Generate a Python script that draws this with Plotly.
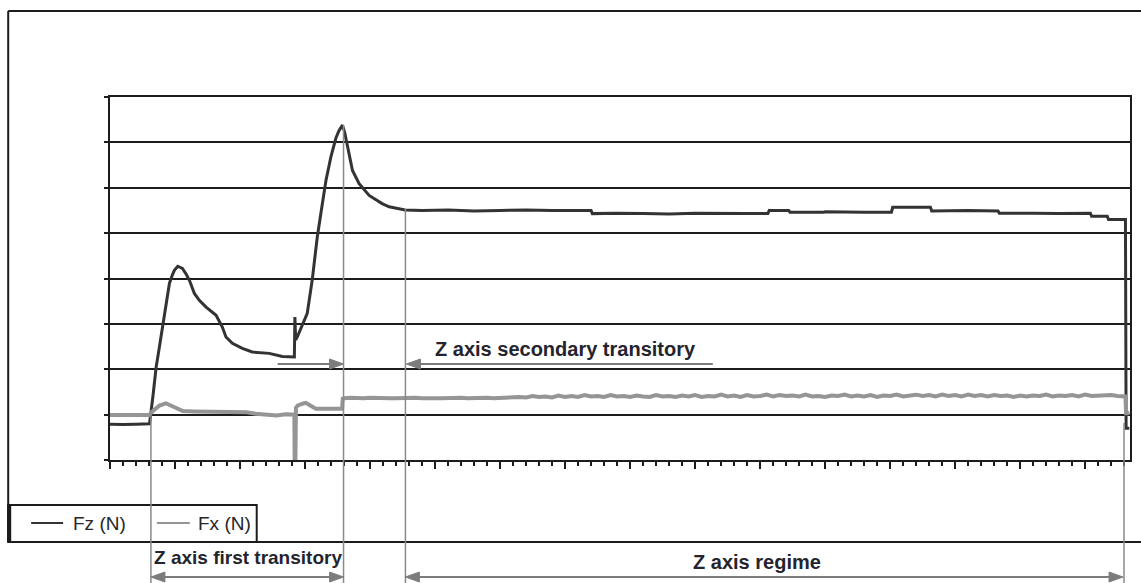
import plotly.graph_objects as go

# ---- Measured force signals (time in sample units, force in N) ----
fz_time = [
    0, 1, 2, 2.9, 3.04,
    3.3, 3.55, 3.75, 3.93, 4.19,
    4.4, 4.57, 4.8, 4.95, 5.21,
    5.4, 5.57, 5.85, 6.11, 6.49,
    6.87, 7.39, 7.8, 8.16, 8.64,
    8.92, 9.41, 10.18, 10.94, 11.6,
    12.25, 13.25, 14.02, 14.18, 14.22,
    14.28, 14.40, 14.78, 15.17, 15.55,
    15.94, 16.22, 16.61, 16.99, 17.37,
    17.6, 17.88, 18.05, 18.26, 18.65,
    19.16, 19.93, 20.93, 21.47, 22.7,
    24, 26, 28, 30, 32,
    34, 36, 37.0, 37.1, 39,
    41, 43, 45, 47, 49,
    50.6, 50.7, 52.2, 52.3, 54.9,
    55.0, 58, 60.1, 60.2, 63.1,
    63.2, 66, 68.3, 68.4, 71,
    73, 75.4, 75.5, 76.7, 76.8,
    78.1, 78.15, 78.4,
]
fz_force = [
    -21, -22, -21, -21, -20,
    40, 105, 140, 171, 223,
    262, 289, 308, 318, 327,
    325, 322, 310, 296, 267,
    252, 237, 228, 219, 193,
    171, 157, 146, 138, 136,
    135, 128, 127, 127, 215,
    165, 171, 197, 223, 296,
    391, 444, 516, 568, 609,
    625, 638, 622, 590, 538,
    509, 483, 465, 458, 451,
    450, 451, 449, 450, 451,
    450, 449, 450, 443, 444,
    443, 442, 444, 443, 443,
    443, 450, 450, 446, 446,
    447, 446, 446, 457, 457,
    449, 450, 449, 444, 444,
    443, 444, 437, 437, 430,
    430, -30, -30,
]

fx_time = [
    0, 1, 2, 3.0, 3.3, 3.8, 4.3, 4.7, 5.1, 5.6,
    6.5, 7.5, 8.5, 9.5, 10.5, 11.2, 12.0, 12.8, 13.5, 14.0,
    14.18, 14.2, 14.26, 14.3, 14.43, 14.8, 15.07, 15.4, 15.84, 16.5,
    17.2, 17.85, 17.9,
    18.0, 18.5, 19.0, 19.5, 20.0, 20.5, 21.0, 21.5, 22.0, 22.5,
    23.0, 23.5, 24.0, 24.5, 25.0, 25.5, 26.0, 26.5, 27.0, 27.5,
    28.0, 28.5, 29.0, 29.5, 30.0, 30.5, 31.0, 31.5, 32.0, 32.5,
    33.0, 33.5, 34.0, 34.5, 35.0, 35.5, 36.0, 36.5, 37.0, 37.5,
    38.0, 38.5, 39.0, 39.5, 40.0, 40.5, 41.0, 41.5, 42.0, 42.5,
    43.0, 43.5, 44.0, 44.5, 45.0, 45.5, 46.0, 46.5, 47.0, 47.5,
    48.0, 48.5, 49.0, 49.5, 50.0, 50.5, 51.0, 51.5, 52.0, 52.5,
    53.0, 53.5, 54.0, 54.5, 55.0, 55.5, 56.0, 56.5, 57.0, 57.5,
    58.0, 58.5, 59.0, 59.5, 60.0, 60.5, 61.0, 61.5, 62.0, 62.5,
    63.0, 63.5, 64.0, 64.5, 65.0, 65.5, 66.0, 66.5, 67.0, 67.5,
    68.0, 68.5, 69.0, 69.5, 70.0, 70.5, 71.0, 71.5, 72.0, 72.5,
    73.0, 73.5, 74.0, 74.5, 75.0, 75.5, 76.0, 76.5, 77.0, 77.5,
    78.0, 78.1, 78.15, 78.4,
]
fx_force = [
    -1, -1, -1, -1, 8, 20, 25, 20, 13, 8,
    7, 6, 7, 6, 5, 2, 0, -2, 1, -1,
    0, -98, -98, 15, 20, 24, 26, 20, 13, 13,
    14, 13, 35,
    36, 37, 36, 36, 37, 36, 37, 36, 36, 37,
    36, 37, 36, 37, 36, 36, 37, 36, 37, 36,
    37, 36, 37, 36, 37, 38, 37, 39, 38, 41,
    39, 40, 38, 42, 39, 41, 39, 43, 40, 41,
    39, 43, 40, 41, 39, 42, 40, 39, 43, 40,
    41, 39, 42, 40, 43, 39, 41, 40, 44, 40,
    42, 39, 43, 40, 41, 44, 40, 43, 41, 42,
    40, 44, 40, 41, 39, 42, 41, 44, 40, 42,
    40, 43, 39, 42, 41, 44, 40, 42, 44, 41,
    43, 40, 44, 41, 43, 40, 44, 41, 43, 40,
    43, 41, 42, 39, 42, 40, 42, 41, 44, 40,
    42, 41, 43, 40, 44, 41, 42, 41, 43, 41,
    42, 40, 3, 3,
]

series_names = ["Fz (N)", "Fx (N)"]
phase_labels = ["Z axis first transitory", "Z axis secondary transitory", "Z axis regime"]

# ---- Page geometry (pixels) ----
W, H = 1141, 583
L, R, T, B = 110, 9, 97, 123
PW, PH = W - L - R, H - T - B


def px(x):
    return (x - L) / PW


def py(y):
    return (T + PH - y) / PH


FZ_COLOR = "#333333"
FX_COLOR = "#959595"
REF_COLOR = "#8a8a8a"
ARROW_COLOR = "#7c7c7c"
FRAME = "#1c1c1c"
TEXT_COLOR = "#24242e"

fig = go.Figure()
fig.add_trace(go.Scatter(x=fz_time, y=fz_force, mode="lines", name=series_names[0],
                         line=dict(color=FZ_COLOR, width=3)))
fig.add_trace(go.Scatter(x=fx_time, y=fx_force, mode="lines", name=series_names[1],
                         line=dict(color=FX_COLOR, width=4)))

shapes = []


def seg(x0, y0, x1, y1, color, width, layer="above"):
    shapes.append(dict(type="line", xref="paper", yref="paper",
                       x0=px(x0), y0=py(y0), x1=px(x1), y1=py(y1),
                       line=dict(color=color, width=width), layer=layer))


def head(xtip, y, direction, color, length=14, half=5):
    xb = xtip - direction * length
    path = "M {} {} L {} {} L {} {} Z".format(
        px(xtip), py(y), px(xb), py(y - half), px(xb), py(y + half))
    shapes.append(dict(type="path", xref="paper", yref="paper", path=path,
                       fillcolor=color, line=dict(color=color, width=1), layer="above"))


# outer frame (left, top, bottom)
seg(8, 11, 8, 542, FRAME, 2)
seg(8, 11, 1145, 11, FRAME, 2)
seg(8, 542, 1145, 542, FRAME, 2)

# legend box
shapes.append(dict(type="rect", xref="paper", yref="paper",
                   x0=px(8), x1=px(257), y0=py(542), y1=py(505),
                   line=dict(color=FRAME, width=2), layer="above"))
seg(9, 505, 9, 542, FRAME, 4)
seg(31, 523, 63, 523, FZ_COLOR, 2)
seg(157, 523, 190, 523, FX_COLOR, 2)

# phase boundary markers
seg(151, 410, 151, 583, REF_COLOR, 1.5)
seg(344, 125, 344, 583, REF_COLOR, 1.5)
seg(406, 209, 406, 583, REF_COLOR, 1.5)
seg(1126, 423, 1126, 583, REF_COLOR, 1.5)

# phase span arrows
seg(160, 577, 335, 577, ARROW_COLOR, 2)
head(151, 577, -1, ARROW_COLOR)
head(344, 577, 1, ARROW_COLOR)
seg(415, 577, 1116, 577, ARROW_COLOR, 2)
head(406, 577, -1, ARROW_COLOR)
head(1125, 577, 1, ARROW_COLOR)

seg(278, 364, 334, 364, ARROW_COLOR, 2)
head(344, 364, 1, ARROW_COLOR)
seg(416, 364, 714, 364, ARROW_COLOR, 2)
head(407, 364, -1, ARROW_COLOR)

annotations = [
    dict(text=series_names[0], x=px(71), y=py(523), xanchor="left", yanchor="middle",
         font=dict(size=19, color="#262626")),
    dict(text=series_names[1], x=px(196), y=py(523), xanchor="left", yanchor="middle",
         font=dict(size=19, color="#262626")),
    dict(text="<b>" + phase_labels[0] + "</b>", x=px(248), y=py(557),
         xanchor="center", yanchor="middle", font=dict(size=19, color=TEXT_COLOR)),
    dict(text="<b>" + phase_labels[1] + "</b>", x=px(566), y=py(349),
         xanchor="center", yanchor="middle", font=dict(size=20, color=TEXT_COLOR)),
    dict(text="<b>" + phase_labels[2] + "</b>", x=px(758), y=py(562),
         xanchor="center", yanchor="middle", font=dict(size=20, color=TEXT_COLOR)),
]
for a in annotations:
    a.update(xref="paper", yref="paper", showarrow=False)

fig.update_layout(
    width=W, height=H,
    margin=dict(l=L, r=R, t=T, b=B, pad=0),
    paper_bgcolor="white", plot_bgcolor="white",
    showlegend=False,
    font=dict(family="Liberation Sans, Arial, sans-serif"),
    shapes=shapes, annotations=annotations,
    xaxis=dict(range=[0, 78.45], showgrid=False, zeroline=False,
               showline=True, linecolor=FRAME, linewidth=2, mirror=True,
               ticks="outside", ticklen=7, tickwidth=2, tickcolor=FRAME,
               tick0=0, dtick=5, showticklabels=False,
               minor=dict(ticks="outside", ticklen=4, tickwidth=2,
                          tickcolor=FRAME, dtick=1, showgrid=False)),
    yaxis=dict(range=[-100, 700], showgrid=True, gridcolor=FRAME, gridwidth=2,
               zeroline=False, showline=True, linecolor=FRAME, linewidth=2,
               mirror=True, ticks="outside", ticklen=4, tickwidth=2,
               tickcolor=FRAME, tick0=0, dtick=100, showticklabels=False),
)

fig.write_html("out.html")
